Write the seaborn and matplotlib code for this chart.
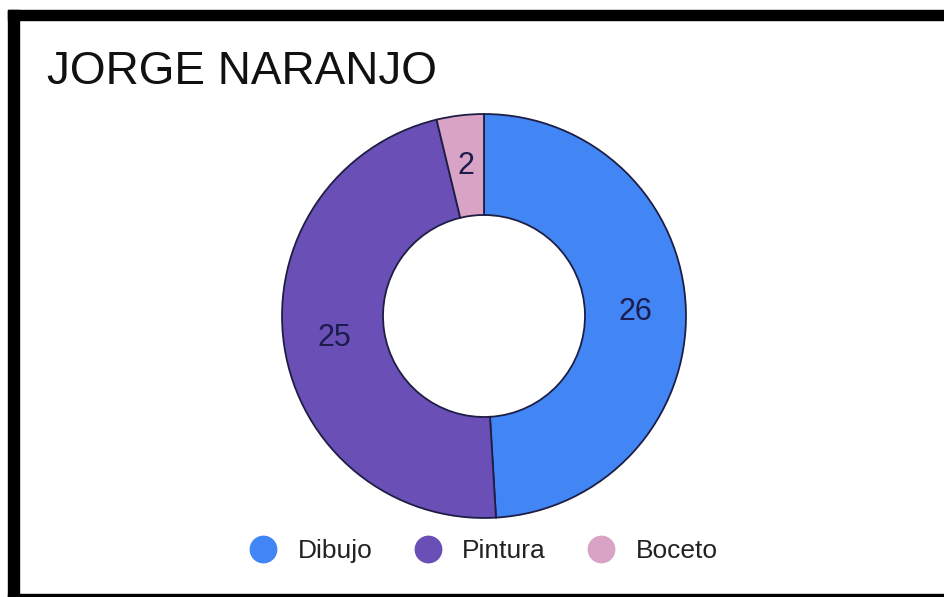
import numpy as np
import matplotlib
matplotlib.use("Agg")
import matplotlib.pyplot as plt
import seaborn as sns
from matplotlib.lines import Line2D
from matplotlib.patches import Rectangle

# data
categories = ["Dibujo", "Pintura", "Boceto"]
values = [26, 25, 2]
colors = ["#4285f4", "#6a4fb6", "#d8a3c5"]
title = "JORGE NARANJO"

sns.set_theme(style="white")
plt.rcParams['font.family'] = ['Liberation Sans', 'DejaVu Sans']

W, H = 945, 597
fig = plt.figure(figsize=(W / 100, H / 100), dpi=100)
fig.patch.set_facecolor("white")

# donut axes: center (484, 316), radius 204 px
cx, cy, r = 484, 316, 204
ax = fig.add_axes([(cx - r) / W, (H - cy - r) / H, 2 * r / W, 2 * r / H])
total = sum(values)
wedges, texts, autotexts = ax.pie(
    values,
    colors=colors,
    startangle=90,
    counterclock=False,
    autopct=lambda p: f"{round(p * total / 100)}",
    pctdistance=0.75,
    wedgeprops=dict(width=0.5, edgecolor="#1e1e45", linewidth=1.3),
    textprops=dict(fontsize=22, color="#1c1c4e"),
)
ax.set_xlim(-1.01, 1.01)
ax.set_ylim(-1.01, 1.01)
ax.axis("off")

# title
fig.text(47 / W, 1 - 72 / H, title, fontsize=33, va="center", ha="left", color="#111111")

# legend
handles = [Line2D([0], [0], marker="o", linestyle="", markersize=19,
                  markerfacecolor=c, markeredgecolor=c) for c in colors]
fig.legend(handles, categories, loc="center", bbox_to_anchor=(484 / W, 1 - 551 / H),
           ncol=3, frameon=False, fontsize=19, handlelength=1.0,
           handletextpad=0.8, columnspacing=1.6, labelcolor="#222222")

# screenshot frame
frame = dict(color="black", transform=None, zorder=10)
fig.patches.append(Rectangle((8, H - 20), W - 8, 10, **frame))
fig.patches.append(Rectangle((8, 0), 11, H - 10, **frame))
fig.patches.append(Rectangle((8, 0), W - 8, 3, **frame))

fig.savefig("out.png", dpi=100)
